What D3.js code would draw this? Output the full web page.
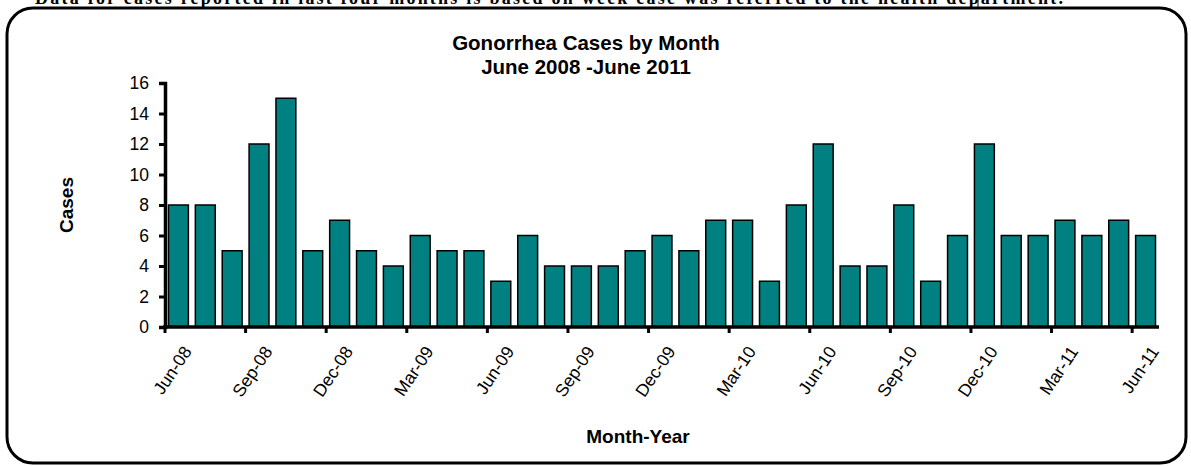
<!DOCTYPE html>
<html lang="en">
<meta charset="utf-8">
<style>
body { margin: 0; background: #fff; }
text { font-family: "Liberation Sans", Arial, sans-serif; }
</style>
<body>
<svg width="1191" height="466"></svg>
<script src="https://d3js.org/d3.v7.min.js"></script>
<script>

var months = ["Jun-08","Jul-08","Aug-08","Sep-08","Oct-08","Nov-08","Dec-08","Jan-09","Feb-09","Mar-09",
  "Apr-09","May-09","Jun-09","Jul-09","Aug-09","Sep-09","Oct-09","Nov-09","Dec-09","Jan-10",
  "Feb-10","Mar-10","Apr-10","May-10","Jun-10","Jul-10","Aug-10","Sep-10","Oct-10","Nov-10",
  "Dec-10","Jan-11","Feb-11","Mar-11","Apr-11","May-11","Jun-11"];

var cases = [8,8,5,12,15,5,7,5,4,6,
  5,5,3,6,4,4,4,5,6,5,
  7,7,3,8,12,4,4,8,3,6,
  12,6,6,7,6,7,6];

var yTicks = [0,2,4,6,8,10,12,14,16];
var labelMonths = months.filter(function(d, i) { return i % 3 === 0; });

var svg = d3.select("svg");

// clipped note from the page above the chart
svg.append("text")
    .attr("x", 35)
    .attr("y", 4)
    .attr("textLength", 1028)
    .style("font-family", "'Liberation Serif', 'Times New Roman', serif")
    .style("font-weight", "bold")
    .style("font-size", "18px")
    .text("Data for cases reported in last four months is based on week case was referred to the health department.");

svg.selectAll("line.cut")
    .data([203, 978])
  .enter().append("line")
    .attr("x1", function(d) { return d; })
    .attr("x2", function(d) { return d; })
    .attr("y1", 0).attr("y2", 8)
    .attr("stroke", "#000");

// rounded frame
svg.append("rect")
    .attr("x", 7).attr("y", 8)
    .attr("width", 1179).attr("height", 455)
    .attr("rx", 26).attr("ry", 26)
    .attr("fill", "none")
    .attr("stroke", "#000")
    .attr("stroke-width", 3);

var x = d3.scaleBand()
    .domain(months)
    .range([165, 1159])
    .paddingInner(0.26)
    .paddingOuter(0.13);

var y = d3.scaleLinear()
    .domain([0, 16])
    .range([327, 83]);

var gap = (x.step() - x.bandwidth()) / 2;

svg.append("g")
  .selectAll("rect")
  .data(cases)
  .enter().append("rect")
    .attr("x", function(d, i) { return x(months[i]); })
    .attr("y", function(d) { return y(d); })
    .attr("width", x.bandwidth())
    .attr("height", function(d) { return y(0) - y(d); })
    .attr("fill", "#008080")
    .attr("stroke", "#000")
    .attr("stroke-width", 1.5);

// y axis
var gy = svg.append("g")
    .attr("transform", "translate(165,0)")
    .call(d3.axisLeft(y).tickValues(yTicks).tickSize(6).tickPadding(10));
gy.select(".domain").attr("stroke-width", 3.5);
gy.selectAll(".tick line").attr("stroke-width", 3);
gy.selectAll(".tick text")
    .style("font-size", "17.5px")
    .attr("fill", "#000");

// x axis line and ticks between categories
svg.append("line")
    .attr("x1", 163).attr("x2", 1159)
    .attr("y1", y(0)).attr("y2", y(0))
    .attr("stroke", "#000")
    .attr("stroke-width", 3.5);

svg.append("g")
  .selectAll("line")
  .data(labelMonths)
  .enter().append("line")
    .attr("x1", function(d) { return x(d) - gap; })
    .attr("x2", function(d) { return x(d) - gap; })
    .attr("y1", y(0))
    .attr("y2", y(0) + 6)
    .attr("stroke", "#000")
    .attr("stroke-width", 3);

svg.append("g")
  .selectAll("text")
  .data(labelMonths)
  .enter().append("text")
    .attr("transform", function(d) {
      return "translate(" + (x(d) + x.bandwidth() / 2 + 9) + "," + (y(0) + 21) + ") rotate(-56)";
    })
    .attr("text-anchor", "end")
    .attr("dy", "0.35em")
    .style("font-size", "17.5px")
    .text(function(d) { return d; });

// titles
var title = svg.append("text")
    .attr("text-anchor", "middle")
    .style("font-weight", "bold")
    .style("font-size", "20.5px");
title.append("tspan").attr("x", 586).attr("y", 50).text("Gonorrhea Cases by Month");
title.append("tspan").attr("x", 586).attr("y", 74).text("June 2008 -June 2011");

svg.append("text")
    .attr("transform", "translate(73,205) rotate(-90)")
    .attr("text-anchor", "middle")
    .style("font-weight", "bold")
    .style("font-size", "19px")
    .text("Cases");

svg.append("text")
    .attr("x", 638)
    .attr("y", 443)
    .attr("text-anchor", "middle")
    .style("font-weight", "bold")
    .style("font-size", "19px")
    .text("Month-Year");

</script>
</body>
</html>
